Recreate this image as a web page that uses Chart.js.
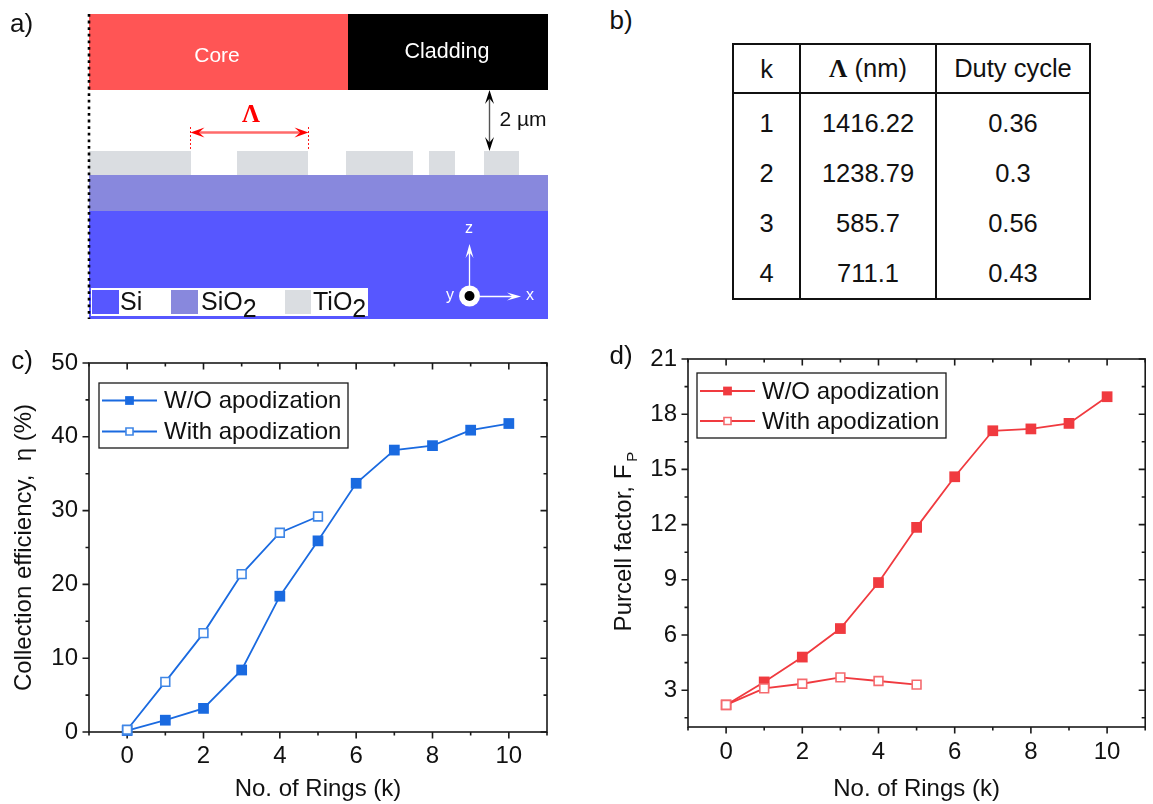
<!DOCTYPE html>
<html><head><meta charset="utf-8">
<script src="https://cdn.jsdelivr.net/npm/chart.js@4"></script>
<style>
html,body{margin:0;padding:0;background:#fff;width:1153px;height:804px;overflow:hidden;font-family:"Liberation Sans",Arial,sans-serif;color:#111}
canvas{position:absolute;display:block}
.t{position:absolute;white-space:nowrap;line-height:1}
.c{transform:translate(-50%,-50%)}
.t sub{font-size:1em;vertical-align:-0.28em;line-height:0}
table{position:absolute;left:732px;top:43px;border-collapse:collapse;table-layout:fixed;font-size:25.5px;width:357px}
td,th{border:2.5px solid #111;text-align:center;padding:0;font-weight:normal;box-sizing:border-box}
td.b{border-top:none;border-bottom:none}
</style></head><body>
<canvas id="a" style="left:0;top:0"></canvas>
<canvas id="c" style="left:0;top:340px"></canvas>
<canvas id="d" style="left:600px;top:340px"></canvas>

<div class="t c" style="left:21.5px;top:23px;font-size:26px">a)</div>
<div class="t c" style="left:621px;top:20px;font-size:26px">b)</div>
<div class="t c" style="left:22px;top:360px;font-size:26px">c)</div>
<div class="t c" style="left:621px;top:355px;font-size:26px">d)</div>

<div class="t c" style="left:217px;top:54px;font-size:21px;color:#fff">Core</div>
<div class="t c" style="left:447px;top:52px;font-size:21.5px;color:#fff">Cladding</div>
<div class="t c" style="left:523px;top:118px;font-size:21px">2 µm</div>
<div class="t c" style="left:251px;top:113px;font-size:25px;font-weight:bold;color:#f00;font-family:'Liberation Serif',serif">Λ</div>
<div class="t" style="left:120px;top:289px;font-size:25px">Si</div>
<div class="t" style="left:201px;top:289px;font-size:25px">SiO<sub>2</sub></div>
<div class="t" style="left:313px;top:289px;font-size:25px">TiO<sub>2</sub></div>
<div class="t c" style="left:469px;top:228px;font-size:16px;color:#fff">z</div>
<div class="t c" style="left:530px;top:295px;font-size:16px;color:#fff">x</div>
<div class="t c" style="left:450px;top:295px;font-size:16px;color:#fff">y</div>

<div class="t" id="ylabD" style="left:623px;top:543px;font-size:24px;transform:translate(-50%,-50%) rotate(-90deg)">Purcell factor, F<span style="font-size:15px;position:relative;top:6px;left:3px">P</span></div>

<table id="tbl"></table>

<script>
// ---- Data ----
const rings = [0,1,2,3,4,5,6,7,8,9,10];
const ringsApod = [0,1,2,3,4,5];
const collectionWithout = [0.2,1.6,3.2,8.4,18.4,25.9,33.7,38.2,38.8,40.9,41.8];
const collectionWith = [0.3,6.8,13.4,21.4,27.0,29.2];
const purcellWithout = [2.2,3.45,4.8,6.35,8.85,11.85,14.6,17.1,17.2,17.5,18.95];
const purcellWith = [2.2,3.1,3.35,3.7,3.5,3.3];
const xMajor = [0,2,4,6,8,10];
const xMinor = [-1,1,3,5,7,9,11];
const yMajorC = [0,10,20,30,40,50];
const yMinorC = [5,15,25,35,45];
const yMajorD = [3,6,9,12,15,18,21];
const yMinorD = [1.5,4.5,7.5,10.5,13.5,16.5,19.5];
const tableK = ["1","2","3","4"];
const tablePeriod = ["1416.22","1238.79","585.7","711.1"];
const tableDuty = ["0.36","0.3","0.56","0.43"];
const seriesNames = ["W/O apodization","With apodization"];
// schematic regions [x0,x1,y0,y1], in the schematic's own axis units
const tio2Ridges = [[89,191],[237,308],[346,413],[429,455],[484,519]];
const layerCore = [89,348,14,90];
const layerCladding = [348,548,14,90];
const layerSiO2 = [89,548,175,211];
const layerSi = [89,548,211,319];

// ---- Table ----
(function(){
  const t=document.getElementById('tbl');
  let h='<colgroup><col style="width:67px"><col style="width:136px"><col style="width:154px"></colgroup>';
  h+='<tr style="height:49px"><td style="padding-top:1px">k</td><td><b style="font-family:\'Liberation Serif\',serif">Λ</b> (nm)</td><td>Duty cycle</td></tr>';
  tableK.forEach((k,i)=>{
    const st= i==0?'height:55px;padding-top:4px':(i==3?'height:50px;padding-bottom:0':'height:50.5px');
    h+=`<tr><td class="b" style="${st}">${k}</td><td class="b" style="${st}">${tablePeriod[i]}</td><td class="b" style="${st}">${tableDuty[i]}</td></tr>`;
  });
  t.innerHTML=h;
  t.querySelectorAll('tr:last-child td').forEach(td=>td.style.borderBottom='2.5px solid #111');
})();

const FONT='"Liberation Sans", Arial, sans-serif';
const INK='#1a1a1a';

// frame + ticks on all four sides, through the chart's scales
const framePlugin={id:'frame',beforeDatasetsDraw(chart,args,o){
  const {ctx,chartArea:a,scales:{x,y}}=chart;
  ctx.save();ctx.strokeStyle=INK;ctx.lineWidth=1.6;
  ctx.strokeRect(a.left,a.top,a.right-a.left,a.bottom-a.top);
  ctx.beginPath();
  const tick=(vals,len)=>{
    vals.forEach(v=>{const p=x.getPixelForValue(v);
      ctx.moveTo(p,a.bottom);ctx.lineTo(p,a.bottom+len);ctx.moveTo(p,a.top);ctx.lineTo(p,a.top+len);});
  };
  const ytick=(vals,len)=>{
    vals.forEach(v=>{const p=y.getPixelForValue(v);
      ctx.moveTo(a.left,p);ctx.lineTo(a.left-len,p);ctx.moveTo(a.right,p);ctx.lineTo(a.right-len,p);});
  };
  tick(o.xMajor,6.5);tick(o.xMinor,3.5);ytick(o.yMajor,6.5);ytick(o.yMinor,3.5);
  ctx.stroke();ctx.restore();
}};
// boxed legend drawn from the datasets
const boxLegend={id:'boxLegend',afterDraw(chart,args,o){
  const {ctx}=chart;const dsets=chart.data.datasets;
  ctx.save();
  ctx.fillStyle='#fff';ctx.fillRect(o.x,o.y,o.w,o.h);
  ctx.strokeStyle=INK;ctx.lineWidth=1.3;ctx.strokeRect(o.x,o.y,o.w,o.h);
  dsets.forEach((d,i)=>{
    const yy=o.rowY[i];
    ctx.strokeStyle=d.borderColor;ctx.lineWidth=d.borderWidth;
    ctx.beginPath();ctx.moveTo(o.lineX0,yy);ctx.lineTo(o.lineX1,yy);ctx.stroke();
    const mx=(o.lineX0+o.lineX1)/2;
    ctx.fillStyle=d.pointBackgroundColor;ctx.strokeStyle=d.pointBorderColor;ctx.lineWidth=d.pointBorderWidth;
    ctx.beginPath();
    const s=(i==0?o.r0:o.r1)*Math.SQRT1_2;ctx.rect(mx-s,yy-s,2*s,2*s);ctx.fill();if(d.pointBorderWidth)ctx.stroke();
    ctx.fillStyle='#111';ctx.font='24px '+FONT;ctx.textBaseline='middle';ctx.textAlign='left';
    ctx.fillText(d.label,o.textX,yy+1);
  });
  ctx.restore();
}};

function plotChart(id,W,H,solid,open,col,colOpen,yMin,yMax,yMajor,yMinor,legendOpts,yTitle,leftW,rightPad,topPad,botH,xPad){
  const el=document.getElementById(id);el.width=W;el.height=H;
  return new Chart(el,{
    type:'line',
    data:{labels:rings,datasets:[
      {label:seriesNames[0],data:rings.map((k,i)=>({x:k,y:solid[i]})),borderColor:col,borderWidth:1.8,pointStyle:'rect',pointRadius:7.6,
       pointBackgroundColor:col,pointBorderColor:col,pointBorderWidth:0,tension:0,clip:false,order:2},
      {label:seriesNames[1],data:ringsApod.map((k,i)=>({x:k,y:open[i]})),borderColor:col,borderWidth:1.8,pointStyle:'rect',pointRadius:6.2,
       pointBackgroundColor:'#fff',pointBorderColor:colOpen,pointBorderWidth:1.6,tension:0,clip:false,order:1}
    ]},
    options:{responsive:false,animation:false,devicePixelRatio:1,
      layout:{padding:{left:0,right:rightPad,top:topPad,bottom:0}},
      plugins:{legend:{display:false},tooltip:{enabled:false},
        frame:{xMajor,xMinor,yMajor,yMinor},boxLegend:legendOpts},
      scales:{
        x:{type:'linear',min:-1,max:11,
          afterBuildTicks(s){s.ticks=xMajor.map(value=>({value}))},
          afterFit(s){s.height=botH;s.paddingLeft=0;s.paddingRight=0},
          grid:{display:false,drawTicks:false},border:{display:false},
          ticks:{color:'#111',font:{family:FONT,size:24},padding:xPad,maxRotation:0,autoSkip:false,callback:v=>String(v)},
          title:{display:true,text:'No. of Rings (k)',color:'#111',font:{family:FONT,size:24},padding:{top:0,bottom:0}}},
        y:{type:'linear',min:yMin,max:yMax,
          afterBuildTicks(s){s.ticks=yMajor.map(value=>({value}))},
          afterFit(s){s.width=leftW;s.paddingTop=0;s.paddingBottom=0},
          grid:{display:false,drawTicks:false},border:{display:false},
          ticks:{color:'#111',font:{family:FONT,size:24},padding:11,autoSkip:false,callback:v=>String(v)},
          title:{display:!!yTitle,text:yTitle||'',color:'#111',font:{family:FONT,size:24},padding:{top:10,bottom:0}}}
      }},
    plugins:[framePlugin,boxLegend]
  });
}

plotChart('c',570,464,collectionWithout,collectionWith,'#1a6ae0','#3f86e6',0,50,yMajorC,yMinorC,
  {x:99,y:43,w:249,h:65,rowY:[60.5,91.5],lineX0:102,lineX1:157,textX:164,r0:6.2,r1:5},
  'Collection efficiency,  η (%)',89,23,23,72,10);
plotChart('d',553,464,purcellWithout,purcellWith,'#f03a3f','#f56a6e',1,21,yMajorD,yMinorD,
  {x:97,y:33,w:249,h:65,rowY:[51,81],lineX0:100,lineX1:155,textX:162,r0:6.2,r1:5},
  '',88,7,19,77,11);

// ---- Panel a: schematic on linear axes ----
const rectPlugin={id:'schem',afterDraw(chart){
  const {ctx,scales:{x,y}}=chart;
  const box=(r,c)=>{const X=x.getPixelForValue(r[0]),Y=y.getPixelForValue(r[2]);
    ctx.fillStyle=c;ctx.fillRect(X,Y,x.getPixelForValue(r[1])-X,y.getPixelForValue(r[3])-Y);};
  const arrowHead=(px,py,ang,len,w,c)=>{ctx.save();ctx.translate(px,py);ctx.rotate(ang);ctx.fillStyle=c;ctx.beginPath();
    ctx.moveTo(0,0);ctx.lineTo(-len,-w);ctx.lineTo(-len*0.6,0);ctx.lineTo(-len,w);ctx.closePath();ctx.fill();ctx.restore();};
  const P=(a,b)=>[x.getPixelForValue(a),y.getPixelForValue(b)];
  ctx.save();
  box(layerCore,'#ff5555');box(layerCladding,'#000');
  box(layerSi,'#5757ff');box(layerSiO2,'#8888dd');
  tio2Ridges.forEach(r=>box([r[0],r[1],151,175],'#dadde1'));
  // dotted symmetry axis
  ctx.strokeStyle='#000';ctx.lineWidth=2.6;ctx.setLineDash([2.8,3.8]);ctx.beginPath();
  ctx.moveTo(...P(89,14));ctx.lineTo(...P(89,319));ctx.stroke();ctx.setLineDash([]);
  // material legend
  box([91,368,288,316],'#fff');
  box([92,119,290,314],'#5757ff');box([171,198,290,314],'#8888dd');box([285,311,290,314],'#dadde1');
  // Λ arrow
  ctx.strokeStyle='#f00';ctx.lineWidth=0.9;ctx.setLineDash([2,2]);ctx.beginPath();
  ctx.moveTo(190.5,127);ctx.lineTo(190.5,151);ctx.moveTo(308.5,127);ctx.lineTo(308.5,151);ctx.stroke();ctx.setLineDash([]);
  ctx.strokeStyle='#ff6b6b';ctx.lineWidth=2.4;ctx.beginPath();ctx.moveTo(195,132.5);ctx.lineTo(304,132.5);ctx.stroke();
  arrowHead(190.5,132.5,Math.PI,14,5,'#f00');arrowHead(308.5,132.5,0,14,5,'#f00');
  // 2 µm arrow
  ctx.strokeStyle='#555';ctx.lineWidth=1.4;ctx.beginPath();ctx.moveTo(489.5,95);ctx.lineTo(489.5,146);ctx.stroke();
  arrowHead(489.5,90,-Math.PI/2,14,4.5,'#000');arrowHead(489.5,151,Math.PI/2,14,4.5,'#000');
  // axes triad
  ctx.strokeStyle='#fff';ctx.lineWidth=1.3;ctx.beginPath();
  ctx.moveTo(469.5,290);ctx.lineTo(469.5,250);ctx.moveTo(478,296.5);ctx.lineTo(515,296.5);ctx.stroke();
  arrowHead(469.5,244,-Math.PI/2,14,4,'#fff');arrowHead(521,296.5,0,14,4,'#fff');
  ctx.fillStyle='#fff';ctx.beginPath();ctx.arc(469.5,296,10.5,0,7);ctx.fill();
  ctx.fillStyle='#000';ctx.beginPath();ctx.arc(469.5,296,5,0,7);ctx.fill();
  ctx.restore();
}};
(function(){
  const el=document.getElementById('a');el.width=570;el.height=330;
  new Chart(el,{type:'scatter',data:{datasets:[{data:[],label:'schematic'}]},
    options:{responsive:false,animation:false,devicePixelRatio:1,layout:{padding:0},
      plugins:{legend:{display:false},tooltip:{enabled:false}},
      scales:{x:{type:'linear',min:0,max:570,display:false},y:{type:'linear',min:0,max:330,reverse:true,display:false}}},
    plugins:[rectPlugin]});
})();
</script>
</body></html>
